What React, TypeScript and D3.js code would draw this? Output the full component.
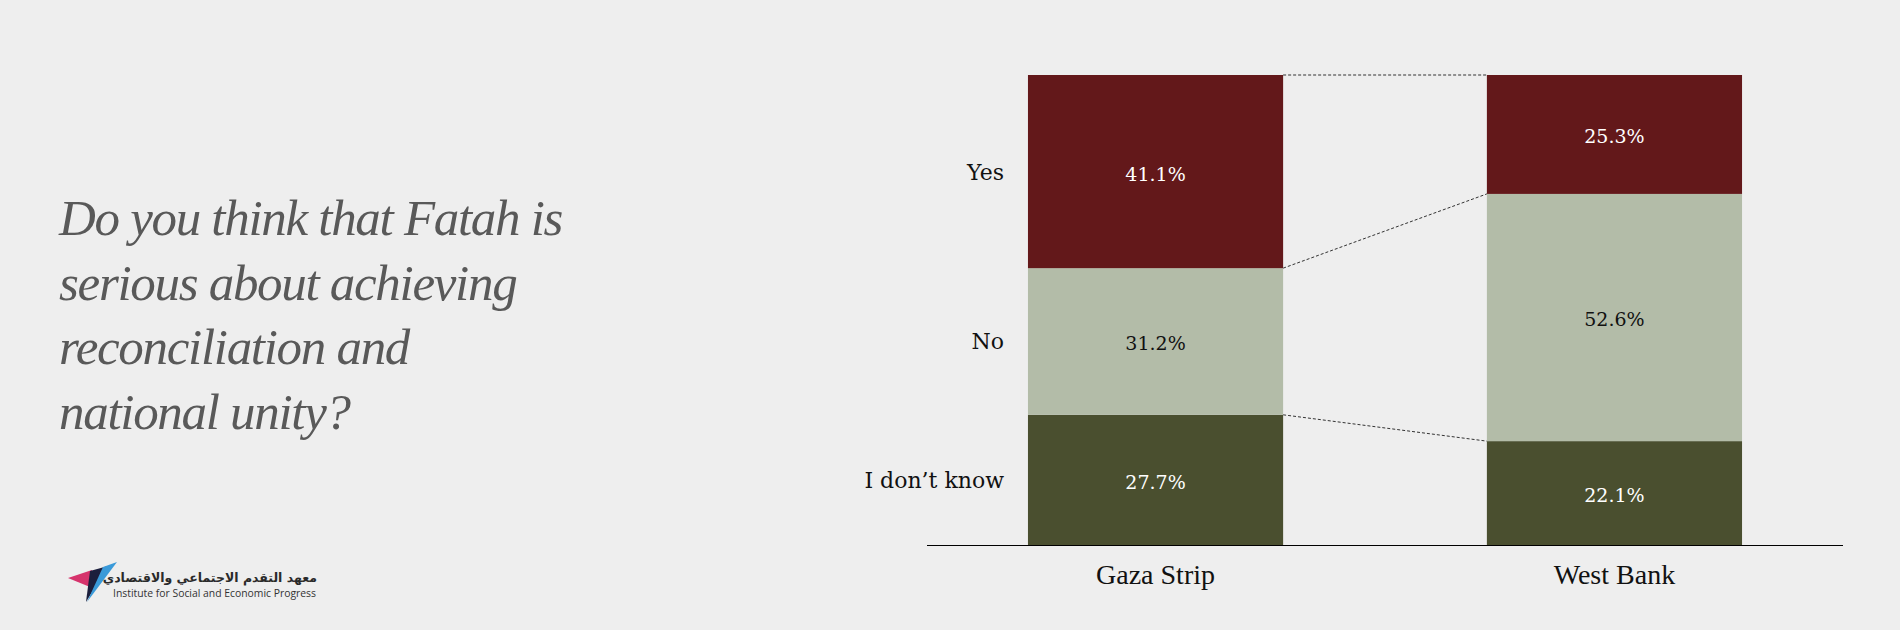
import React from "react";
import * as d3 from "d3";

const regions = ["Gaza Strip", "West Bank"];
const answers = ["Yes", "No", "I don\u2019t know"];
const yesValues = [41.1, 25.3];
const noValues = [31.2, 52.6];
const dontKnowValues = [27.7, 22.1];
const titleLines = [
  "Do you think that Fatah is",
  "serious about achieving",
  "reconciliation and",
  "national unity?",
];
const logoArabic = "معهد التقدم الاجتماعي والاقتصادي";
const logoEnglish = "Institute for Social and Economic Progress";

const colors = ["#63181a", "#b3bca8", "#4a4f2f"];
const textColors = ["#ffffff", "#111111", "#ffffff"];

export default function App() {
  const W = 1900;
  const H = 630;
  const x = d3
    .scaleBand<string>()
    .domain(regions)
    .range([927, 1843])
    .paddingInner(0.444)
    .paddingOuter(0.22);
  const y = d3.scaleLinear().domain([0, 100]).range([545, 75]);

  const table = regions.map((r, i) => ({
    region: r,
    Yes: yesValues[i],
    No: noValues[i],
    DK: dontKnowValues[i],
  }));
  const stack = d3.stack<any>().keys(["DK", "No", "Yes"]);
  const series = stack(table);
  const keyToIdx: Record<string, number> = { Yes: 0, No: 1, DK: 2 };

  const bw = x.bandwidth();
  const g0 = regions[0];
  const g1 = regions[1];
  const boundaryValues = (i: number) => [
    100,
    dontKnowValues[i] + noValues[i],
    dontKnowValues[i],
  ];
  const b0 = boundaryValues(0);
  const b1 = boundaryValues(1);

  return (
    <svg
      width={W}
      height={H}
      style={{ position: "fixed", left: 0, top: 0, display: "block" }}
    >
      <rect x={0} y={0} width={W} height={H} fill="#eeeeee" />

      {/* title */}
      <g
        fontFamily="'Liberation Serif', 'Times New Roman', serif"
        fontStyle="italic"
        fontSize={51}
        fill="#595959"
        letterSpacing={-1.3}
      >
        {titleLines.map((t, i) => (
          <text key={i} x={59} y={235 + i * 64.5}>
            {t}
          </text>
        ))}
      </g>

      {/* logo */}
      <g>
        <polygon points="68,578 92,570 90,587" fill="#d6336c" />
        <polygon points="90,571 108,566 86,602" fill="#1c1f3d" />
        <polygon points="103,567 117,562 87,602" fill="#3a9ad9" />
        <text
          x={317}
          y={582}
          textAnchor="end"
          fontFamily="'DejaVu Sans', 'Noto Sans', sans-serif"
          fontWeight="bold"
          fontSize={12.5}
          fill="#2a2a2a"
        >
          {logoArabic}
        </text>
        <text
          x={113}
          y={597}
          fontFamily="'Open Sans', sans-serif"
          fontSize={11.5}
          fill="#333333"
          textLength={203}
          lengthAdjust="spacingAndGlyphs"
        >
          {logoEnglish}
        </text>
      </g>

      {/* connectors */}
      <g stroke="#333333" strokeWidth={1} strokeDasharray="3,2" fill="none">
        {b0.map((v, i) => (
          <line
            key={i}
            x1={(x(g0) as number) + bw}
            y1={y(v)}
            x2={x(g1) as number}
            y2={y(b1[i])}
          />
        ))}
      </g>

      {/* bars */}
      {series.map((s) => (
        <g key={s.key} fill={colors[keyToIdx[s.key]]}>
          {s.map((d, j) => (
            <rect
              key={j}
              x={x(regions[j])}
              y={y(d[1])}
              width={bw}
              height={y(d[0]) - y(d[1])}
            />
          ))}
        </g>
      ))}

      {/* value labels */}
      {series.map((s) => (
        <g
          key={"l" + s.key}
          fontFamily="'DejaVu Serif', serif"
          fontSize={19}
          textAnchor="middle"
          fill={textColors[keyToIdx[s.key]]}
        >
          {s.map((d, j) => (
            <text
              key={j}
              x={(x(regions[j]) as number) + bw / 2}
              y={y((d[0] + d[1]) / 2)}
              dy="0.47em"
            >
              {(d[1] - d[0]).toFixed(1)}%
            </text>
          ))}
        </g>
      ))}

      {/* category labels (left of first bar) */}
      <g
        fontFamily="'DejaVu Serif', serif"
        fontSize={22}
        textAnchor="end"
        fill="#111111"
      >
        {series.map((s) => {
          const d = s[0];
          return (
            <text
              key={"c" + s.key}
              x={1004}
              y={y((d[0] + d[1]) / 2)}
              dy="0.36em"
            >
              {answers[keyToIdx[s.key]]}
            </text>
          );
        })}
      </g>

      {/* axis */}
      <line x1={927} x2={1843} y1={545.5} y2={545.5} stroke="#000" strokeWidth={1.2} />
      <g
        fontFamily="'Liberation Serif', serif"
        fontSize={28}
        textAnchor="middle"
        fill="#111111"
      >
        {regions.map((r) => (
          <text key={r} x={(x(r) as number) + bw / 2} y={584}>
            {r}
          </text>
        ))}
      </g>
    </svg>
  );
}
